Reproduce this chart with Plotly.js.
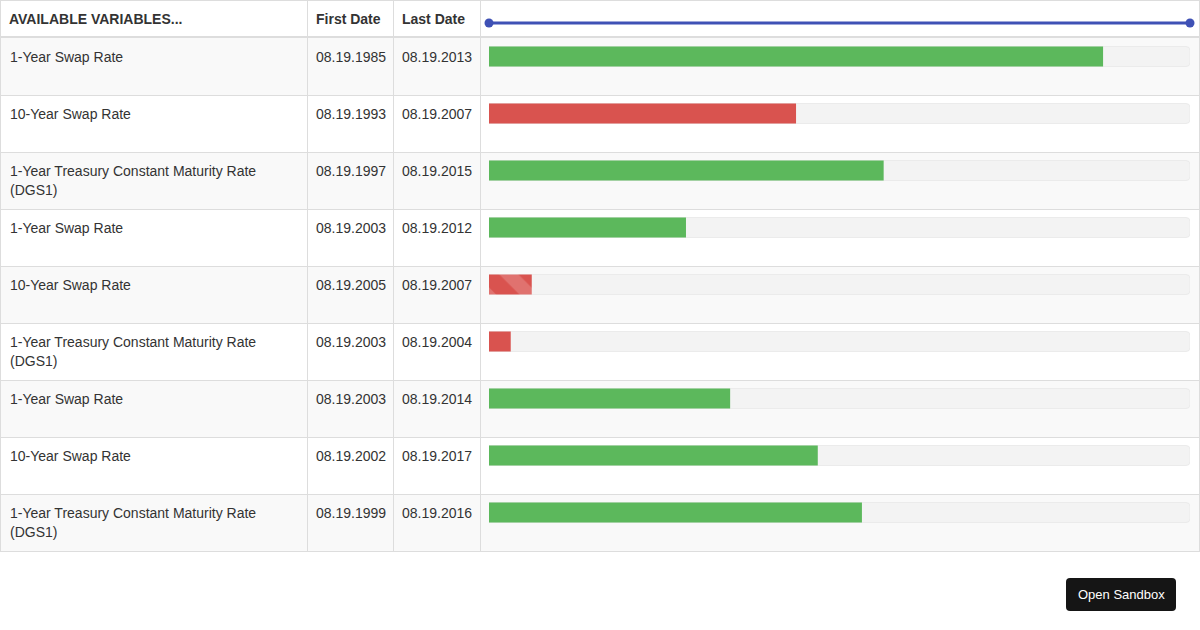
<!DOCTYPE html>
<html>
<head>
<meta charset="utf-8">
<script src="https://cdn.plot.ly/plotly-3.0.1.min.js"></script>
<style>
html,body{margin:0;padding:0;background:#fff;}
#chart{width:1200px;height:630px;}
</style>
</head>
<body>
<div id="chart"></div>
<script>
// ---- data ----
var headers = ["AVAILABLE VARIABLES...", "First Date", "Last Date"];
var variables = [
  "1-Year Swap Rate",
  "10-Year Swap Rate",
  "1-Year Treasury Constant Maturity Rate (DGS1)",
  "1-Year Swap Rate",
  "10-Year Swap Rate",
  "1-Year Treasury Constant Maturity Rate (DGS1)",
  "1-Year Swap Rate",
  "10-Year Swap Rate",
  "1-Year Treasury Constant Maturity Rate (DGS1)"
];
var firstDates = ["08.19.1985","08.19.1993","08.19.1997","08.19.2003","08.19.2005","08.19.2003","08.19.2003","08.19.2002","08.19.1999"];
var lastDates  = ["08.19.2013","08.19.2007","08.19.2015","08.19.2012","08.19.2007","08.19.2004","08.19.2014","08.19.2017","08.19.2016"];
var progress   = [87.6, 43.8, 56.3, 28.1, 6.1, 3.1, 34.4, 46.9, 53.2];
var barStatus  = ["success","danger","success","success","danger-striped","danger","success","success","success"];
var sliderRange = [0, 100];
var buttonLabel = "Open Sandbox";

(function(){
var W = 1200, H = 630;
var headerH = 38, rowH = 57;
var colX = [0, 307, 393, 480, 1199];
var nRows = variables.length;
var tableBottom = headerH + rowH * nRows;
var barL = 489, barR = 1190;
var barCenterOffset = 18.5;
var barH = 20;
var txt = "#333333";
var FONT = "Liberation Sans, Arial, Helvetica, sans-serif";

var colorMap = {"success":"#5cb85c","danger":"#d9534f","danger-striped":"#d9534f"};

var shapes = [];
for (var i = 0; i < nRows; i++) {
  var rowTop = headerH + rowH * i;
  if (i % 2 === 0) {
    shapes.push({type:"rect", xref:"x", yref:"y", x0:0, x1:W, y0:rowTop, y1:rowTop+rowH,
      fillcolor:"#f9f9f9", line:{width:0}, layer:"below"});
  }
}
shapes.push({type:"line", xref:"x", yref:"y", x0:0, x1:W, y0:0.5, y1:0.5, line:{color:"#dddddd", width:1}});
shapes.push({type:"line", xref:"x", yref:"y", x0:0, x1:W, y0:headerH-1, y1:headerH-1, line:{color:"#dddddd", width:2}});
for (var j = 1; j <= nRows; j++) {
  var yy = headerH + rowH * j + 0.5;
  shapes.push({type:"line", xref:"x", yref:"y", x0:0, x1:W, y0:yy, y1:yy, line:{color:"#dddddd", width:1}});
}
colX.forEach(function(cx){
  shapes.push({type:"line", xref:"x", yref:"y", x0:cx+0.5, x1:cx+0.5, y0:0, y1:tableBottom+0.5, line:{color:"#dddddd", width:1}});
});
function rrect(x0,y0,x1,y1,r){
  return "M"+(x0+r)+","+y0+" L"+(x1-r)+","+y0+" Q"+x1+","+y0+" "+x1+","+(y0+r)+
    " L"+x1+","+(y1-r)+" Q"+x1+","+y1+" "+(x1-r)+","+y1+" L"+(x0+r)+","+y1+
    " Q"+x0+","+y1+" "+x0+","+(y1-r)+" L"+x0+","+(y0+r)+" Q"+x0+","+y0+" "+(x0+r)+","+y0+" Z";
}
shapes.push({type:"path", xref:"x", yref:"y", path:rrect(1066,578,1176,611,4), fillcolor:"#151515", line:{width:0}});

var ann = [];
var headerX = [7, 314, 400];
headers.forEach(function(h, k){
  ann.push({xref:"x", yref:"y", x:headerX[k], y:19, xanchor:"left", yanchor:"middle",
    text:"<b>"+h+"</b>", showarrow:false, font:{family:FONT, size:14, color:txt}});
});
for (var r = 0; r < nRows; r++) {
  var rt = headerH + rowH * r;
  var lines = variables[r].replace(" (", "\n(").split("\n");
  lines.forEach(function(ln, k){
    ann.push({xref:"x", yref:"y", x:8, y:rt+19+19*k, xanchor:"left", yanchor:"middle", align:"left",
      text:ln, showarrow:false, font:{family:FONT, size:14, color:txt}});
  });
  ann.push({xref:"x", yref:"y", x:314, y:rt+19, xanchor:"left", yanchor:"middle",
    text:firstDates[r], showarrow:false, font:{family:FONT, size:14, color:txt}});
  ann.push({xref:"x", yref:"y", x:400, y:rt+19, xanchor:"left", yanchor:"middle",
    text:lastDates[r], showarrow:false, font:{family:FONT, size:14, color:txt}});
}
ann.push({xref:"x", yref:"y", x:1121, y:594, xanchor:"center", yanchor:"middle",
  text:buttonLabel, showarrow:false, font:{family:FONT, size:13, color:"#ffffff"}});

var rowIdx = variables.map(function(_, k){ return k; });
var y2top = (0 - (headerH + barCenterOffset)) / rowH;
var y2bot = (H - (headerH + barCenterOffset)) / rowH;
var barWidth = barH / rowH;

var track = {
  type:"bar", orientation:"h", xaxis:"x2", yaxis:"y2",
  x: rowIdx.map(function(){ return 100; }), y: rowIdx, width: barWidth,
  marker:{color:"#f3f3f3", cornerradius:4, line:{color:"#ebebeb", width:1}},
  hoverinfo:"skip", showlegend:false
};
var bars = {
  type:"bar", orientation:"h", xaxis:"x2", yaxis:"y2",
  x: progress, y: rowIdx, width: barWidth,
  marker:{
    color: barStatus.map(function(s){ return colorMap[s]; }),
    cornerradius:4,
    line:{width:0},
    pattern:{
      shape: barStatus.map(function(s){ return s === "danger-striped" ? "\\" : ""; }),
      fillmode:"overlay", fgcolor:"#ffffff", fgopacity:0.18, size:30, solidity:0.45
    }
  },
  hoverinfo:"skip", showlegend:false
};
var sliderY = (23 - (headerH + barCenterOffset)) / rowH;
var slider = {
  type:"scatter", mode:"lines+markers", xaxis:"x2", yaxis:"y2",
  x: sliderRange, y: sliderRange.map(function(){ return sliderY; }),
  line:{color:"#3f51b5", width:3}, marker:{color:"#3f51b5", size:9},
  hoverinfo:"skip", showlegend:false, cliponaxis:false
};
var dummy = {type:"scatter", x:[0], y:[0], mode:"markers", marker:{opacity:0}, hoverinfo:"skip", showlegend:false};

var layout = {
  width:W, height:H,
  margin:{l:0, r:0, t:0, b:0, pad:0},
  paper_bgcolor:"#ffffff", plot_bgcolor:"rgba(0,0,0,0)",
  xaxis:{range:[0,W], visible:false, fixedrange:true, domain:[0,1]},
  yaxis:{range:[H,0], visible:false, fixedrange:true, domain:[0,1]},
  xaxis2:{range:[0,100], domain:[barL/W, barR/W], anchor:"y2", visible:false, fixedrange:true},
  yaxis2:{range:[y2bot, y2top], domain:[0,1], anchor:"x2", overlaying:"y", visible:false, fixedrange:true},
  barmode:"overlay",
  shapes:shapes,
  annotations:ann,
  showlegend:false
};

Plotly.newPlot("chart", [dummy, track, bars, slider], layout, {displayModeBar:false, staticPlot:true});
})();
</script>
</body>
</html>
